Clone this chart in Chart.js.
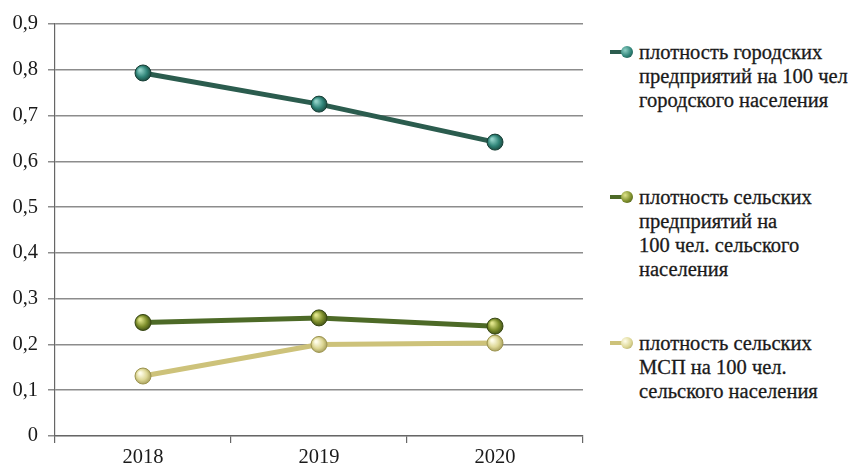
<!DOCTYPE html>
<html>
<head>
<meta charset="utf-8">
<script src="https://cdn.jsdelivr.net/npm/chart.js@4.4.1/dist/chart.umd.min.js"></script>
<style>
  body { margin: 0; background: #fff; }
  #wrap { position: relative; width: 855px; height: 469px; }
  #box { position: absolute; left: 0; top: 0; width: 600px; height: 469px; }
  #legend { position: absolute; left: 608px; top: 0; font-family: "Liberation Serif", "Times New Roman", serif; font-size: 20.5px; line-height: 24px; color: #1a1a1a; -webkit-text-stroke: 0.3px #1a1a1a; }
  .item { position: absolute; left: 0; white-space: nowrap; }
  .mark { position: absolute; left: 0; top: 7px; width: 30px; height: 10px; }
  .mark .ln { position: absolute; left: 2px; top: 3px; width: 18px; height: 4px; }
  .mark .dot { position: absolute; left: 13px; top: -1px; width: 12px; height: 12px; border-radius: 50%; }
  .txt { margin-left: 31px; }
</style>
</head>
<body>
<div id="wrap">
  <div id="box"><canvas id="myChart"></canvas></div>
  <div id="legend"></div>
</div>
<script>
// Data

let years = ["2018", "2019", "2020"];

let urbanDensity = [0.793, 0.725, 0.642];   // городские предприятия
let ruralDensity = [0.248, 0.258, 0.240];   // сельские предприятия
let ruralSmeDensity = [0.131, 0.200, 0.203]; // сельские МСП

let seriesNames = [
    ["плотность городских", "предприятий на 100 чел", "городского населения"],
    ["плотность сельских", "предприятий на", "100 чел. сельского", "населения"],
    ["плотность сельских", "МСП на 100 чел.", "сельского населения"]
];

let lineColors = ["#2b5c4e", "#4d6a27", "#cdc27a"];
let dotLights = ["#8fd0c6", "#dfe48a", "#fffdea"];
let dotColors = ["#2f8478", "#7e8f2c", "#ddd795"];
let dotBorders = ["#173f36", "#364612", "#9c9450"];
let legendTops = [40, 185, 331];

let seriesData = [urbanDensity, ruralDensity, ruralSmeDensity];

let chart;

// Shaded ball for each point, placed with the chart's own scales
function ballFill(ctx) {
    let i = ctx.datasetIndex;
    let chartObj = ctx.chart;
    if (ctx.type !== "data" || !chartObj.scales.x || !chartObj.scales.y || !ctx.parsed) {
        return dotColors[i];
    }
    let px = chartObj.scales.x.getPixelForValue(ctx.dataIndex);
    let py = chartObj.scales.y.getPixelForValue(ctx.parsed.y);
    if (!isFinite(px) || !isFinite(py)) {
        return dotColors[i];
    }
    let g = chartObj.ctx.createRadialGradient(px - 3, py - 3, 1, px, py, 9);
    g.addColorStop(0, dotLights[i]);
    g.addColorStop(0.55, dotColors[i]);
    g.addColorStop(1, dotBorders[i]);
    return g;
}

function buildDatasets() {
    let sets = [];
    for (let i = 0; i < seriesData.length; i++) {
        sets.push({
            label: seriesNames[i].join(" "),
            data: seriesData[i],
            borderColor: lineColors[i],
            borderWidth: 5,
            pointRadius: 8,
            pointHoverRadius: 8,
            pointBackgroundColor: ballFill,
            pointBorderColor: dotBorders[i],
            pointBorderWidth: 1,
            tension: 0
        });
    }
    return sets;
}

function drawChart() {
    if (chart) { chart.destroy(); }

    chart = new Chart("myChart", {
        type: "line",
        data: {
            labels: years,
            datasets: buildDatasets()
        },
        options: {
            responsive: true,
            maintainAspectRatio: false,
            animation: false,
            layout: { padding: { top: 24, left: 0, right: 17, bottom: 0 } },
            plugins: {
                legend: { display: false },
                tooltip: { enabled: false }
            },
            scales: {
                x: {
                    offset: true,
                    grid: { drawOnChartArea: false, offset: true, tickLength: 7, color: "#666", lineWidth: 1.2 },
                    border: { color: "#666", width: 1.2 },
                    ticks: { color: "#1a1a1a", padding: 2, font: { family: "Liberation Serif", size: 20.5 } },
                    afterFit: function (axis) { axis.height = 33; }
                },
                y: {
                    min: 0,
                    max: 0.9,
                    grid: { color: "#8c8c8c", lineWidth: 1.5, tickLength: 7 },
                    border: { color: "#666", width: 1.2 },
                    ticks: {
                        stepSize: 0.1,
                        color: "#1a1a1a",
                        padding: 10,
                        font: { family: "Liberation Serif", size: 20.5 },
                        callback: function (v) {
                            return v === 0 ? "0" : v.toFixed(1).replace(".", ",");
                        }
                    },
                    afterFit: function (axis) { axis.width = 55; }
                }
            }
        }
    });
}

// Legend on the right, with the line breaks of the original

let legend = document.getElementById("legend");
for (let i = 0; i < seriesNames.length; i++) {
    let item = document.createElement("div");
    item.className = "item";
    item.style.top = legendTops[i] + "px";
    item.innerHTML =
        '<div class="mark"><div class="ln" style="background:' + lineColors[i] + '"></div>' +
        '<div class="dot" style="background:radial-gradient(circle at 35% 35%, ' + dotLights[i] + ', ' +
        dotColors[i] + ' 55%, ' + dotBorders[i] + ')"></div></div>' +
        '<div class="txt">' + seriesNames[i].join("<br>") + '</div>';
    legend.appendChild(item);
}

// Wait for the serif font so the canvas does not fall back to sans
document.fonts.load('20px "Liberation Serif"').then(drawChart, drawChart);
</script>
</body>
</html>
